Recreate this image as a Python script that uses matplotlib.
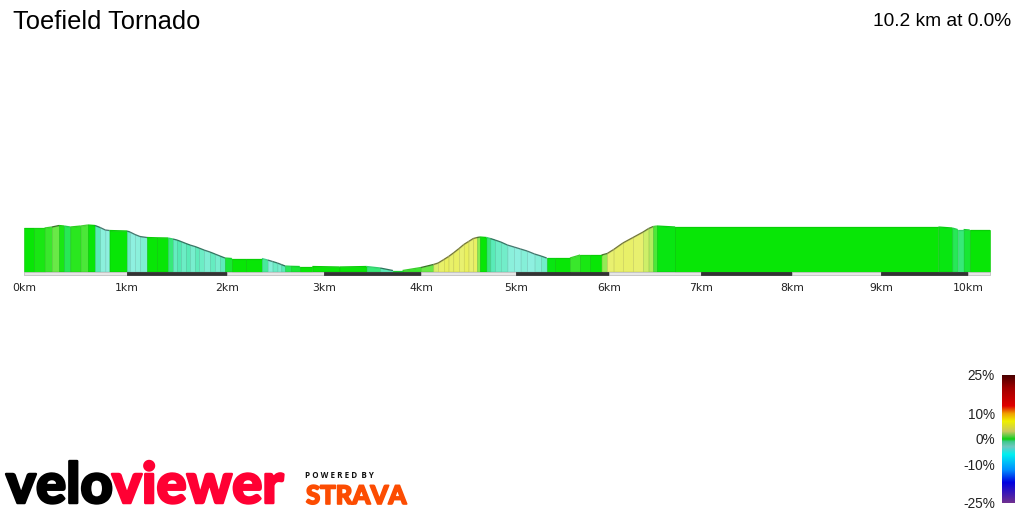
"""Elevation profile of Toefield Tornado."""

import matplotlib
matplotlib.use('Agg')
import matplotlib.colors as mcolors
import matplotlib.patheffects as pe
import matplotlib.pyplot as plt
import numpy as np

FIG_W = 1024
FIG_H = 512
DPI = 100

TITLE = 'Toefield Tornado'
SUMMARY = '10.2 km at 0.0%'

KM_TICKS = [0, 1, 2, 3, 4, 5, 6, 7, 8, 9, 10]
KM_LABELS = ['0km', '1km', '2km', '3km', '4km', '5km', '6km', '7km', '8km', '9km', '10km']
KM_END = 10.25
# the profile is drawn in perspective, kilometres get shorter to the right
KM_PIXELS = [24, 127, 227, 324, 421, 516, 609, 701, 792, 881, 968, 990]

DISTANCE = [
    0.00, 0.10, 0.20, 0.27, 0.34, 0.39, 0.45, 0.55, 0.62, 0.69, 0.74, 0.79, 0.83,
    1.00, 1.03, 1.08, 1.13, 1.20, 1.30, 1.41, 1.46, 1.50, 1.54, 1.59, 1.63, 1.68, 1.72, 1.77, 1.83, 1.88, 1.93, 1.98,
    2.05, 2.20, 2.36, 2.42, 2.47, 2.52, 2.56, 2.60, 2.66, 2.75, 2.88, 3.16, 3.44, 3.58, 3.71, 3.81, 4.00, 4.13,
    4.18, 4.24, 4.29, 4.34, 4.40, 4.45, 4.50, 4.55, 4.59, 4.62, 4.69, 4.73, 4.78, 4.84, 4.91, 4.98, 5.05, 5.12, 5.20, 5.27, 5.33,
    5.42, 5.58, 5.69, 5.80, 5.92, 5.98, 6.05, 6.15, 6.26, 6.37, 6.43, 6.48, 6.52, 6.72, 9.66, 9.82, 9.88, 9.95, 10.02, 10.25,
]
ELEVATION = [
    43.5, 43.5, 43.5, 44.5, 46.0, 45.5, 44.5, 45.5, 46.5, 46.0, 44.0, 41.5, 41.0,
    40.5, 39.5, 37.0, 35.0, 34.0, 33.7, 33.5, 32.5, 31.5, 30.0, 28.0, 26.5, 25.0, 23.5, 21.5, 19.5, 17.5, 15.5, 13.5,
    13.0, 13.0, 13.0, 11.5, 10.0, 8.5, 7.0, 5.5, 5.2, 5.0, 5.0, 4.5, 5.0, 3.5, 1.0, 1.0, 4.0, 7.0,
    8.5, 12.0, 15.0, 18.5, 23.0, 27.0, 30.0, 33.0, 34.0, 34.5, 34.0, 33.0, 31.5, 29.5, 26.5, 24.5, 22.5, 20.5, 17.5, 15.5, 13.5,
    13.5, 13.5, 16.5, 16.5, 16.5, 18.0, 22.0, 28.5, 34.0, 39.5, 43.0, 45.0, 45.5, 44.5, 44.5, 43.5, 42.0, 42.0, 41.5, 41.5,
]
# grade in % of the stretch that ends at each profile point, first entry unused
GRADE = [
    0.0, 0.0, 0.3, 0.7, 1.2, 0.2, -0.5, 0.4, 0.9, 0.1, -1.2, -2.8, -3.0,
    0.0, -1.8, -3.0, -2.8, -2.4, 0.0, 0.0, -0.7, -1.6, -1.1, -1.8, -1.3, -2.2, -1.5, -1.9, -2.4, -1.6, -2.2, -1.4,
    -0.2, 0.0, 0.0, -0.9, -2.6, -1.8, -2.3, -1.2, -0.5, -0.3, 0.0, 0.1, 0.0, -0.7, -1.2, -0.2, 0.6, 1.2,
    2.8, 3.2, 3.6, 3.2, 3.5, 3.1, 3.6, 3.0, 3.4, 1.6, 0.0, -0.6, -1.2, -1.8, -2.0, -2.8, -3.0, -2.7, -3.1, -2.6, -2.0,
    -0.1, 0.0, 0.7, 0.3, 0.0, 1.8, 3.0, 3.3, 3.2, 3.0, 2.6, 2.2, 0.8, -0.05, 0.0, -0.1, -0.4, -0.7, -0.2, 0.0,
]

GRADE_STOPS = [-25, -17, -12, -6, -3, -1, 0, 1, 3, 7, 10, 13, 20, 25]
PROFILE_COLOURS = [
    '#703090', '#0000e0', '#0090ff', '#00f0f0', '#90f0e0', '#50eab0', '#00e600',
    '#55e840', '#e8f070', '#f0f000', '#f0a000', '#e00000', '#a00000', '#4a0000',
]
BAR_COLOURS = [
    '#703090', '#0000e0', '#0090ff', '#00f0f0', '#70c8c0', '#40c890', '#10d010',
    '#50cc40', '#c8c860', '#f0f000', '#f0a000', '#e00000', '#a00000', '#4a0000',
]
BAR_TICKS = [25, 10, 0, -10, -25]
BAR_LABELS = ['25%', '10%', '0%', '-10%', '-25%']

RED = '#ff0033'
ORANGE = '#fc4c02'


def make_cmap(name, colours):
    """Colormap over the grade range -25 to 25."""
    nodes = [(g + 25) / 50 for g in GRADE_STOPS]
    return mcolors.LinearSegmentedColormap.from_list(name, list(zip(nodes, colours)))


def km_to_px(km):
    return np.interp(km, KM_TICKS + [KM_END], KM_PIXELS)


def px_to_km(px):
    return np.interp(px, KM_PIXELS, KM_TICKS + [KM_END])


def box(left, top, right, bottom):
    """Axes rectangle from pixel edges, origin top left."""
    return [left / FIG_W, 1 - bottom / FIG_H, (right - left) / FIG_W, (bottom - top) / FIG_H]


def draw_profile(fig):
    ax = fig.add_axes(box(24, 211.5, 990, 275.5))
    ax.set_xscale('function', functions=(km_to_px, px_to_km))
    ax.set_xlim(0, KM_END)
    ax.set_ylim(-4, 60)
    ax.patch.set_alpha(0)
    for spine in ax.spines.values():
        spine.set_visible(False)
    ax.set_yticks([])
    ax.set_xticks(KM_TICKS, KM_LABELS, fontsize=7.8, family='DejaVu Sans', color='#222222')
    ax.tick_params(axis='x', length=0, pad=5.5)

    cmap = make_cmap('profile', PROFILE_COLOURS)
    norm = mcolors.Normalize(-25, 25)
    for i in range(1, len(DISTANCE)):
        xs = DISTANCE[i - 1:i + 1]
        ys = ELEVATION[i - 1:i + 1]
        colour = cmap(norm(GRADE[i]))
        dark = tuple(c * 0.85 for c in colour[:3])
        top_shade = 0.5 if abs(GRADE[i]) > 1 else 0.9
        top = tuple(c * top_shade for c in colour[:3])
        ax.fill_between(xs, 0, ys, facecolor=colour, edgecolor=dark, linewidth=0.4)
        ax.plot(xs, ys, color=top, linewidth=0.9, solid_capstyle='butt')

    # kilometre ribbon under the profile
    edges = KM_TICKS + [KM_END]
    for i in range(len(edges) - 1):
        dark = i % 2 == 1
        ax.fill_between(edges[i:i + 2], -3.4, -0.2,
                        facecolor='#333333' if dark else '#e6e6e6',
                        edgecolor='#333333' if dark else '#c0c0c0', linewidth=0.6)


def draw_grade_bar(fig):
    ax = fig.add_axes(box(1002, 375, 1015, 503))
    cmap = make_cmap('bar', BAR_COLOURS)
    ramp = np.linspace(25, -25, 256).reshape(-1, 1)
    ax.imshow(ramp, cmap=cmap, vmin=-25, vmax=25, aspect='auto', extent=(0, 1, -25, 25))
    for spine in ax.spines.values():
        spine.set_visible(False)
    ax.set_xticks([])
    ax.set_yticks(BAR_TICKS, BAR_LABELS, fontsize=9.8, family='Liberation Sans', color='#222222')
    ax.tick_params(axis='y', length=0, pad=5)


def draw_logos(fig):
    y_velo = 1 - 503 / FIG_H
    thick = [pe.withStroke(linewidth=1.8, foreground='black')]
    velo = fig.text(6 / FIG_W, y_velo, 'velo', fontsize=40.5, family='Lato', weight='black',
                    color='black', va='baseline', path_effects=thick)
    fig.canvas.draw()
    bbox = velo.get_window_extent()
    thick_red = [pe.withStroke(linewidth=1.8, foreground=RED)]
    fig.text((bbox.x1 - 1) / FIG_W, y_velo, 'viewer', fontsize=40.5, family='Lato', weight='black',
             color=RED, va='baseline', path_effects=thick_red)
    fig.text(305 / FIG_W, 1 - 478 / FIG_H, 'P O W E R E D  B Y', fontsize=5.8, family='Open Sans',
             weight='bold', color='#111111', va='baseline')
    thick_orange = [pe.withStroke(linewidth=1.2, foreground=ORANGE)]
    fig.text(306 / FIG_W, 1 - 504 / FIG_H, 'STRAVA', fontsize=18.5, family='Lato', weight='black',
             color=ORANGE, va='baseline', path_effects=thick_orange)


def main():
    fig = plt.figure(figsize=(FIG_W / DPI, FIG_H / DPI), dpi=DPI)
    fig.text(13 / FIG_W, 1 - 29 / FIG_H, TITLE, fontsize=18.4, family='Liberation Sans',
             color='black', va='baseline')
    fig.text(1011 / FIG_W, 1 - 26 / FIG_H, SUMMARY, fontsize=13.8, family='Liberation Sans',
             color='black', ha='right', va='baseline')
    draw_profile(fig)
    draw_grade_bar(fig)
    draw_logos(fig)
    fig.savefig('out.png', dpi=DPI)
    plt.close(fig)


if __name__ == '__main__':
    main()
